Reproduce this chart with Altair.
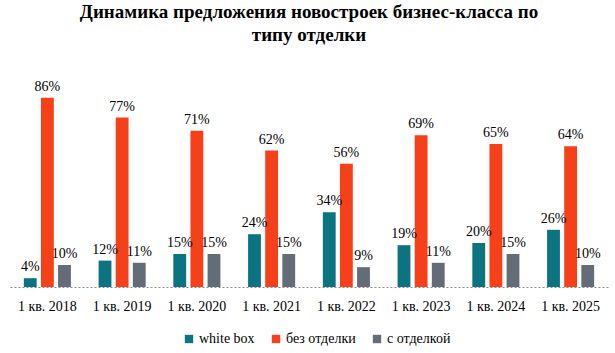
import altair as alt
import pandas as pd

categories = ["1 кв. 2018", "1 кв. 2019", "1 кв. 2020", "1 кв. 2021",
              "1 кв. 2022", "1 кв. 2023", "1 кв. 2024", "1 кв. 2025"]
series = ["white box", "без отделки", "с отделкой"]
white_box = [4, 12, 15, 24, 34, 19, 20, 26]
bez_otdelki = [86, 77, 71, 62, 56, 69, 65, 64]
s_otdelkoy = [10, 11, 15, 15, 9, 11, 15, 10]
colors = ["#0b7480", "#f5401a", "#646c78"]

rows = []
for vals, s in zip([white_box, bez_otdelki, s_otdelkoy], series):
    for c, v in zip(categories, vals):
        rows.append({"cat": c, "series": s, "value": v, "label": f"{v}%"})
df = pd.DataFrame(rows)

font = "Liberation Serif"

x = alt.X("cat:N", sort=categories, title=None,
          scale=alt.Scale(paddingInner=0.37, paddingOuter=0.185),
          axis=alt.Axis(labelAngle=0, labelFont=font, labelFontSize=14,
                        labelColor="#000000", ticks=False, domainDash=[2, 2],
                        domainColor="#888888", labelPadding=12))
xo = alt.XOffset("series:N", sort=series,
                 scale=alt.Scale(paddingInner=0.25, paddingOuter=0))
y = alt.Y("value:Q", scale=alt.Scale(domain=[0, 100]), axis=None)

bars = alt.Chart(df).mark_bar().encode(
    x=x, xOffset=xo, y=y,
    color=alt.Color("series:N", sort=series,
                    scale=alt.Scale(domain=series, range=colors),
                    legend=alt.Legend(title=None, orient="none", direction="horizontal",
                                      legendX=172, legendY=265, labelFont=font,
                                      labelFontSize=14, labelColor="#000000",
                                      symbolType="square", symbolSize=70,
                                      symbolStrokeWidth=0, columnPadding=14,
                                      labelOffset=3)),
)

labels = alt.Chart(df).mark_text(baseline="bottom", dy=-4, font=font, fontSize=14,
                                 color="#000000").encode(
    x=x, xOffset=xo, y=y, text="label:N")

chart = alt.layer(bars, labels).properties(
    width=598, height=220,
    autosize=alt.AutoSizeParams(type="none"),
    padding={"left": 10, "top": 67, "right": 7, "bottom": 66},
    title=alt.TitleParams(["Динамика предложения новостроек бизнес-класса по",
                           "типу отделки"],
                          font=font, fontSize=19, fontWeight="bold",
                          color="#000000", anchor="middle", lineHeight=23,
                          offset=22),
).configure_view(stroke=None)

chart.save("out.html", embed_options={"renderer": "svg", "actions": False})
